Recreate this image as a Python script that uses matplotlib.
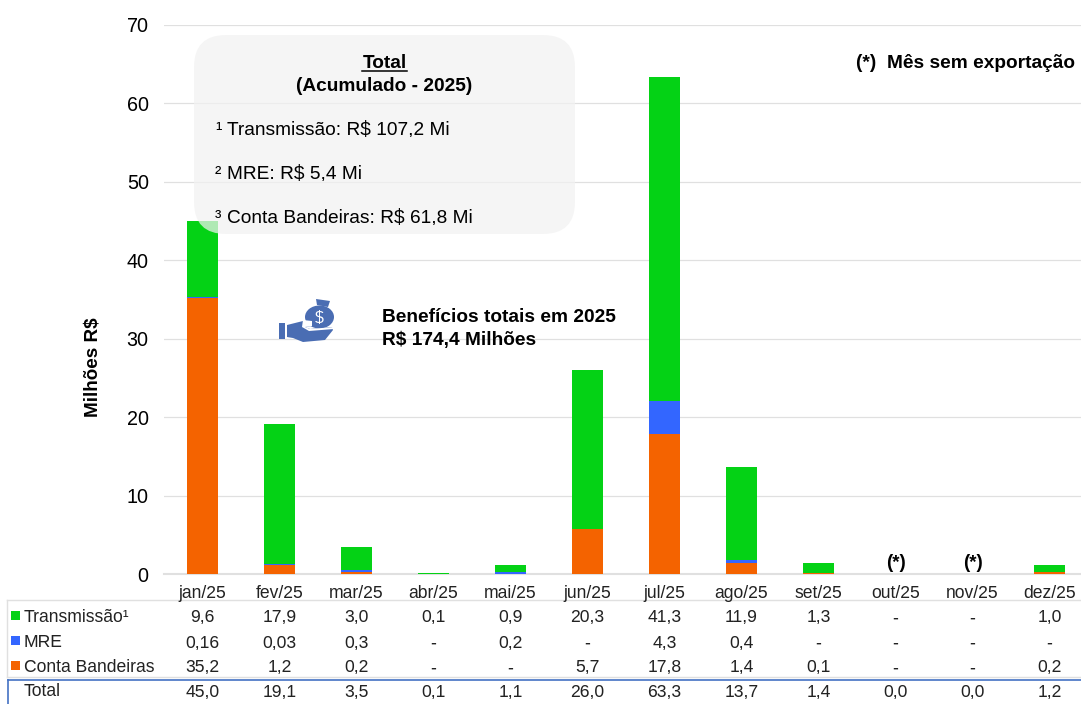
import matplotlib
matplotlib.use("Agg")
import matplotlib.pyplot as plt
from matplotlib.patches import FancyBboxPatch, Polygon, Ellipse, Rectangle
from matplotlib.transforms import blended_transform_factory

plt.rcParams["font.family"] = ["Liberation Sans", "DejaVu Sans"]
plt.rcParams["text.hinting"] = "default"
plt.rcParams["text.hinting_factor"] = 8

meses = ["jan/25", "fev/25", "mar/25", "abr/25", "mai/25", "jun/25",
         "jul/25", "ago/25", "set/25", "out/25", "nov/25", "dez/25"]
transmissao = [9.6, 17.9, 3.0, 0.1, 0.9, 20.3, 41.3, 11.9, 1.3, None, None, 1.0]
mre = [0.16, 0.03, 0.3, None, 0.2, None, 4.3, 0.4, None, None, None, None]
bandeiras = [35.2, 1.2, 0.2, None, None, 5.7, 17.8, 1.4, 0.1, None, None, 0.2]
total = [45.0, 19.1, 3.5, 0.1, 1.1, 26.0, 63.3, 13.7, 1.4, 0.0, 0.0, 1.2]
sem_exportacao = ["out/25", "nov/25"]
y_ticks = [0, 10, 20, 30, 40, 50, 60, 70]

VERDE = "#04D215"
AZUL = "#3366FF"
LARANJA = "#F46300"
GRADE = "#E0E0E0"
W, H = 1081, 704


def num(v):
    return 0 if v is None else v


def rotulo(v):
    return "-" if v is None else str(v).replace(".", ",")


fig = plt.figure(figsize=(W / 100, H / 100), dpi=100)
ax = fig.add_axes([164 / W, 1 - 574 / H, (W - 164) / W, (574 - 25) / H])

x = list(range(len(meses)))
base = [0] * len(meses)
for serie, cor in [(bandeiras, LARANJA), (mre, AZUL), (transmissao, VERDE)]:
    vals = [num(v) for v in serie]
    ax.bar(x, vals, 0.4, bottom=base, color=cor, zorder=3)
    base = [b + v for b, v in zip(base, vals)]

ax.set_xlim(-0.5, (W - 202.5) / 77)
ax.set_ylim(0, 70)
ax.set_yticks(y_ticks)
ax.set_xticks(x)
ax.set_xticklabels([])
ax.tick_params(axis="x", length=0)
ax.tick_params(axis="y", length=0, pad=11, labelsize=14.3)
ax.grid(axis="y", color=GRADE, lw=0.9, zorder=0)
for s in ["top", "right", "left"]:
    ax.spines[s].set_visible(False)
ax.spines["bottom"].set_color(GRADE)
ax.spines["bottom"].set_linewidth(1.5)

# camada em pixels para caixa, icone e tabela
ov = fig.add_axes([0, 0, 1, 1], zorder=5)
ov.set_xlim(0, W)
ov.set_ylim(H, 0)
ov.axis("off")

ov.text(92, 367, "Milhões R$", rotation=90, ha="center", va="center",
        fontsize=13.6, fontweight="bold")

# caixa do acumulado
ov.add_patch(FancyBboxPatch((194 + 32, 35 + 32), 381 - 64, 199 - 64,
                            boxstyle="round,pad=32,rounding_size=32",
                            fc="#F2F2F2", ec="none", alpha=0.72))
ov.text(384.5, 68.5, "Total", ha="center", va="baseline", fontsize=13.8, fontweight="bold")
ov.plot([362, 407], [71, 71], color="black", lw=1.1)
ov.text(384.5, 91, "(Acumulado - 2025)", ha="center", va="baseline",
        fontsize=13.8, fontweight="bold")
ov.text(215, 135, "¹", ha="left", va="baseline", fontsize=13.8)
ov.text(227, 135, "Transmissão: R$ 107,2 Mi", ha="left", va="baseline", fontsize=13.8)
ov.text(215, 179, "²", ha="left", va="baseline", fontsize=13.8)
ov.text(227, 179, "MRE: R$ 5,4 Mi", ha="left", va="baseline", fontsize=13.8)
ov.text(215, 223, "³", ha="left", va="baseline", fontsize=13.8)
ov.text(227, 223, "Conta Bandeiras: R$ 61,8 Mi", ha="left", va="baseline", fontsize=13.8)

ov.text(1075, 68, "(*)  Mês sem exportação", ha="right", va="baseline",
        fontsize=13.8, fontweight="bold")
ov.text(382, 322, "Benefícios totais em 2025", ha="left", va="baseline",
        fontsize=13.8, fontweight="bold")
ov.text(382, 345, "R$ 174,4 Milhões", ha="left", va="baseline",
        fontsize=13.8, fontweight="bold")

# icone da mao com o saco de dinheiro
AZ_ICONE = "#4A6DB3"
ov.add_patch(Rectangle((279, 323), 6, 15.5, fc=AZ_ICONE, ec="none"))
ov.add_patch(Polygon([(287, 325), (303, 321), (312, 322), (312, 326), (305, 327),
                      (310, 329), (332, 327), (333, 330), (325, 340), (303, 342),
                      (293, 338), (287, 337)], fc=AZ_ICONE, ec="none"))
ov.add_patch(Ellipse((319.5, 317), 29, 23, fc=AZ_ICONE, ec="none"))
ov.add_patch(Polygon([(316, 299), (330, 301), (328, 307), (317, 305)], fc=AZ_ICONE, ec="none"))
ov.add_patch(Polygon([(303, 320), (312, 321), (312, 326), (305, 327), (310, 329),
                      (334, 327), (334, 329), (309, 331), (302, 327)], fc="white", ec="none"))
ov.text(319, 318, "$", color="white", ha="center", va="center", fontsize=11.5)

trans_x = blended_transform_factory(ax.transData, ov.transData)

# rotulos dos meses com a mesma linha de base
for i, m in enumerate(meses):
    ov.text(i, 598.5, m, transform=trans_x, ha="center", va="baseline",
            fontsize=12.65, color="#222222")

# marcas de mes sem exportacao
for m in sem_exportacao:
    ov.text(meses.index(m), 568, "(*)", transform=trans_x, ha="center", va="baseline",
            fontsize=13.5, fontweight="bold")

# tabela de dados, y = linha de base de cada fila
linhas = [("Transmissão¹", transmissao, VERDE, 622.5),
          ("MRE", mre, AZUL, 647.5),
          ("Conta Bandeiras", bandeiras, LARANJA, 672.5),
          ("Total", total, None, 697)]
for nome, serie, cor, y in linhas:
    ov.text(24, y - 0.5, nome, ha="left", va="baseline", fontsize=12.65, color="#222222")
    if cor:
        ov.add_patch(Rectangle((11, y - 11.5), 9, 9, fc=cor, ec="none"))
    for i, v in enumerate(serie):
        ov.text(i, y, rotulo(v), transform=trans_x, ha="center", va="baseline",
                fontsize=12.65, color="#222222")

ov.plot([7, W], [600, 600], color=GRADE, lw=1)
ov.plot([7, W], [677, 677], color=GRADE, lw=1)
ov.plot([7, 7], [600, 677], color=GRADE, lw=1)
ov.plot([8, W], [680, 680], color="#4472C4", lw=1.2)
ov.plot([8, 8], [680, H], color="#4472C4", lw=1.2)

fig.savefig("out.png", dpi=100)
